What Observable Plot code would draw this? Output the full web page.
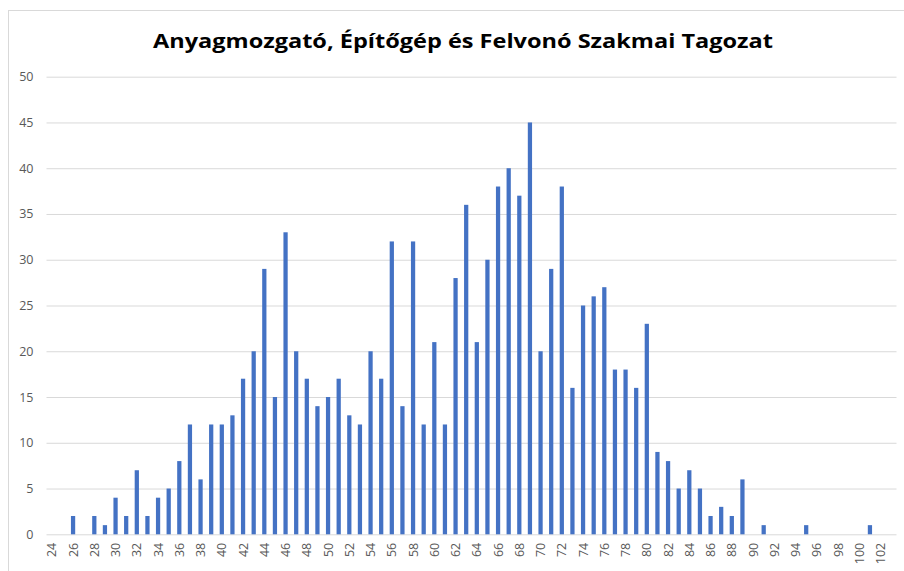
<!DOCTYPE html>
<html>
<head>
<meta charset="utf-8">
<script src="https://cdn.jsdelivr.net/npm/d3@7"></script>
<script src="https://cdn.jsdelivr.net/npm/@observablehq/plot@0.6"></script>
<style>
  html, body { margin: 0; padding: 0; background: #fff; }
  #wrap { position: relative; width: 904px; height: 571px; overflow: hidden; background: #fff; }
  #frame { position: absolute; left: 8px; top: 10px; width: 2000px; height: 2000px; border: 1px solid #d9d9d9; box-sizing: border-box; }
  #title { position: absolute; left: 0; top: 0; }
  #plot { position: absolute; left: 0; top: 60px; }
</style>
</head>
<body>
<div id="wrap">
  <div id="frame"></div>
  <div id="title"></div>
  <div id="plot"></div>
</div>
<script>
const titleText = "Anyagmozgató, Építőgép és Felvonó Szakmai Tagozat";

const categories = [
  24, 25, 26, 27, 28, 29, 30, 31, 32, 33,
  34, 35, 36, 37, 38, 39, 40, 41, 42, 43,
  44, 45, 46, 47, 48, 49, 50, 51, 52, 53,
  54, 55, 56, 57, 58, 59, 60, 61, 62, 63,
  64, 65, 66, 67, 68, 69, 70, 71, 72, 73,
  74, 75, 76, 77, 78, 79, 80, 81, 82, 83,
  84, 85, 86, 87, 88, 89, 90, 91, 92, 93,
  94, 95, 96, 97, 98, 99, 100, 101, 102, 103
];

const counts = [
  0, 0, 2, 0, 2, 1, 4, 2, 7, 2,
  4, 5, 8, 12, 6, 12, 12, 13, 17, 20,
  29, 15, 33, 20, 17, 14, 15, 17, 13, 12,
  20, 17, 32, 14, 32, 12, 21, 12, 28, 36,
  21, 30, 38, 40, 37, 45, 20, 29, 38, 16,
  25, 26, 27, 18, 18, 16, 23, 9, 8, 5,
  7, 5, 2, 3, 2, 6, 0, 1, 0, 0,
  0, 1, 0, 0, 0, 0, 0, 1, 0, 0
];

const xTickLabels = [
  24, 26, 28, 30, 32, 34, 36, 38, 40, 42, 44, 46, 48, 50, 52, 54, 56, 58, 60, 62,
  64, 66, 68, 70, 72, 74, 76, 78, 80, 82, 84, 86, 88, 90, 92, 94, 96, 98, 100, 102
];

const yTicks = [0, 5, 10, 15, 20, 25, 30, 35, 40, 45, 50];

const data = categories.map((c, i) => ({category: c, count: counts[i]}));

// Title
const tsvg = d3.create("svg").attr("width", 904).attr("height", 60);
tsvg.append("text")
  .attr("x", 463)
  .attr("y", 48)
  .attr("text-anchor", "middle")
  .attr("font-family", "'Open Sans', 'Noto Sans', sans-serif")
  .attr("font-weight", "bold")
  .attr("font-size", 19.5)
  .attr("fill", "#000")
  .attr("textLength", 620)
  .attr("lengthAdjust", "spacingAndGlyphs")
  .text(titleText);
document.getElementById("title").append(tsvg.node());

const chart = Plot.plot({
  width: 904,
  height: 511,
  marginLeft: 46.5,
  marginRight: 7.5,
  marginTop: 16.7,
  marginBottom: 36.7,
  style: {
    fontFamily: "'Open Sans', 'Noto Sans', sans-serif",
    fontSize: "12.5px",
    color: "#595959",
    background: "transparent"
  },
  x: {
    type: "band",
    domain: categories,
    paddingInner: 0.6,
    paddingOuter: 0.3,
    axis: null
  },
  y: {
    domain: [0, 50],
    axis: null
  },
  marks: [
    Plot.gridY(yTicks, {stroke: "#d9d9d9", strokeOpacity: 1, strokeWidth: 1}),
    Plot.axisY(yTicks, {
      tickSize: 0,
      tickPadding: 13.5,
      fill: "#595959",
      fontSize: 12.5,
      label: null
    }),
    Plot.barY(data, {x: "category", y: "count", fill: "#4472C4"}),
    Plot.axisX(xTickLabels, {
      tickSize: 0,
      tickPadding: 8,
      tickRotate: -90,
      fill: "#595959",
      fontSize: 12.5,
      label: null
    })
  ]
});
document.getElementById("plot").append(chart);
</script>
</body>
</html>
